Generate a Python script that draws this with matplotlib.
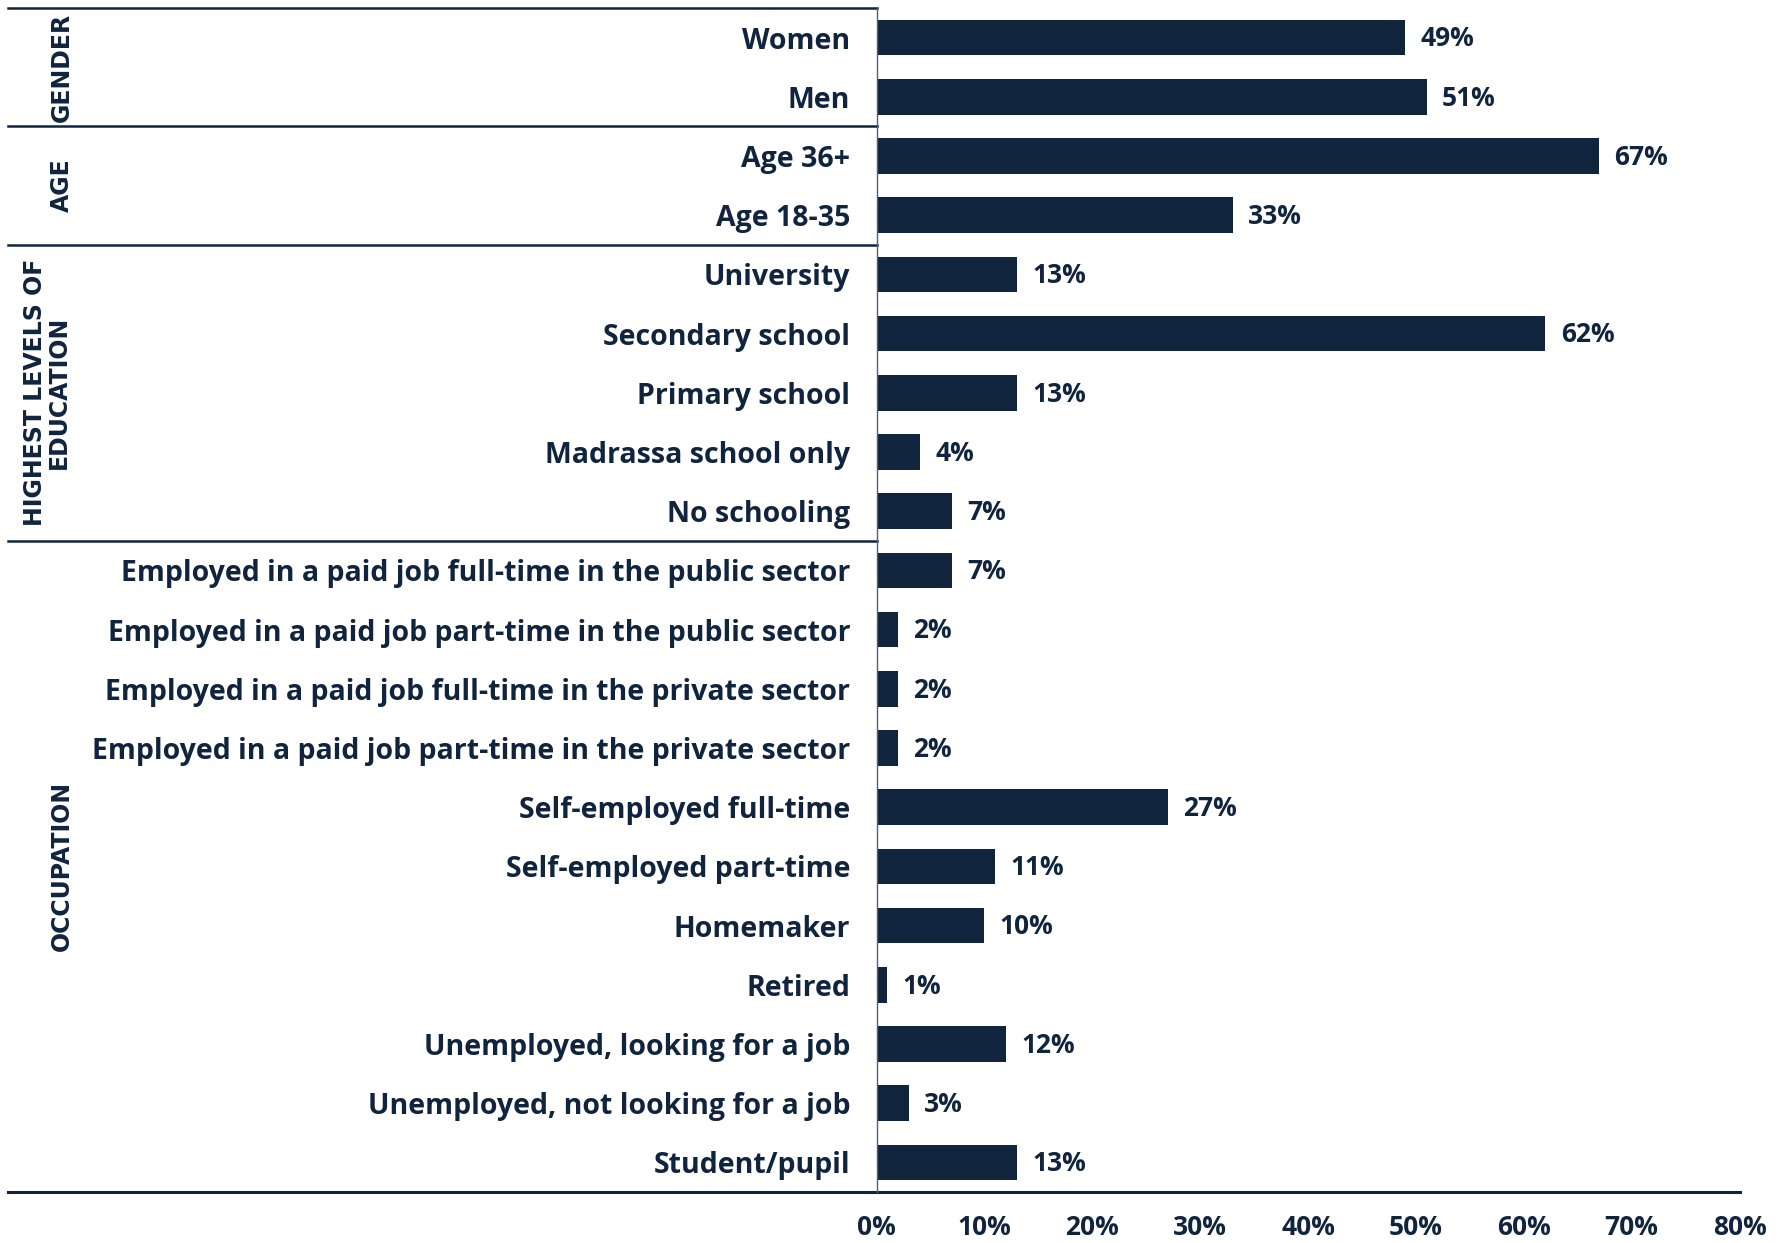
import matplotlib.pyplot as plt
import matplotlib.transforms as mtransforms

# data
categories = [
    "Women", "Men",
    "Age 36+", "Age 18-35",
    "University", "Secondary school", "Primary school", "Madrassa school only", "No schooling",
    "Employed in a paid job full-time in the public sector",
    "Employed in a paid job part-time in the public sector",
    "Employed in a paid job full-time in the private sector",
    "Employed in a paid job part-time in the private sector",
    "Self-employed full-time", "Self-employed part-time", "Homemaker", "Retired",
    "Unemployed, looking for a job", "Unemployed, not looking for a job", "Student/pupil",
]
values = [49, 51, 67, 33, 13, 62, 13, 4, 7, 7, 2, 2, 2, 27, 11, 10, 1, 12, 3, 13]
groups = ["GENDER", "AGE", "HIGHEST LEVELS OF\nEDUCATION", "OCCUPATION"]
group_sizes = [2, 2, 5, 11]
xticks = [0, 10, 20, 30, 40, 50, 60, 70, 80]

navy = "#10243d"
plt.rcParams['font.family'] = ['Open Sans', 'DejaVu Sans']

fig = plt.figure(figsize=(17.85, 12.43), dpi=100)
ax = fig.add_axes([876.6 / 1785, 1 - 1192 / 1243, (1739.5 - 876.6) / 1785, (1192 - 8) / 1243])

n = len(categories)
ypos = list(range(n))
ax.barh(ypos, values, height=0.6, color=navy)
ax.set_ylim(n - 0.5, -0.5)
ax.set_xlim(0, 80)

for y, v in zip(ypos, values):
    ax.annotate(f"{v}%", (v, y), xytext=(11, -1), textcoords="offset points",
                va="center", ha="left", fontsize=19, fontweight="bold", color=navy)

ax.set_yticks(ypos)
ax.set_yticklabels(categories, fontsize=20.5, fontweight="bold", color=navy)
ax.tick_params(axis="y", length=0, pad=19)
ax.set_xticks(xticks)
ax.set_xticklabels([f"{t}%" for t in xticks], fontsize=19, fontweight="bold", color=navy)
ax.tick_params(axis="x", length=0, pad=16)

for s in ["top", "right", "bottom"]:
    ax.spines[s].set_visible(False)
ax.spines["left"].set_color("#555f6b")
ax.spines["left"].set_linewidth(1)

# group separators and labels
ytr = ax.get_yaxis_transform()
left_x = (8 - 876.6) / (1739.5 - 876.6)
ax.plot([left_x, 0], [-0.5, -0.5], transform=ytr, clip_on=False, color=navy, lw=1.8)
ax.plot([left_x, 1], [n - 0.5, n - 0.5], transform=ytr, clip_on=False, color=navy, lw=2.2)

lbl_tr = mtransforms.blended_transform_factory(fig.transFigure, ax.transData)
start = 0
for g, size in zip(groups, group_sizes):
    end = start + size
    if end < n:
        ax.plot([left_x, 0], [end - 0.5, end - 0.5], transform=ytr, clip_on=False, color=navy, lw=1.8)
    mid = (start + end - 1) / 2
    gx = 62 / 1785 if "\n" not in g else 47 / 1785
    fig.text(gx, mid, g, transform=lbl_tr, rotation=90, ha="center", va="center",
             fontsize=17, fontweight="bold", color=navy, linespacing=0.95,
             family=["DejaVu Sans"])
    start = end

fig.savefig("out.png", dpi=100)
